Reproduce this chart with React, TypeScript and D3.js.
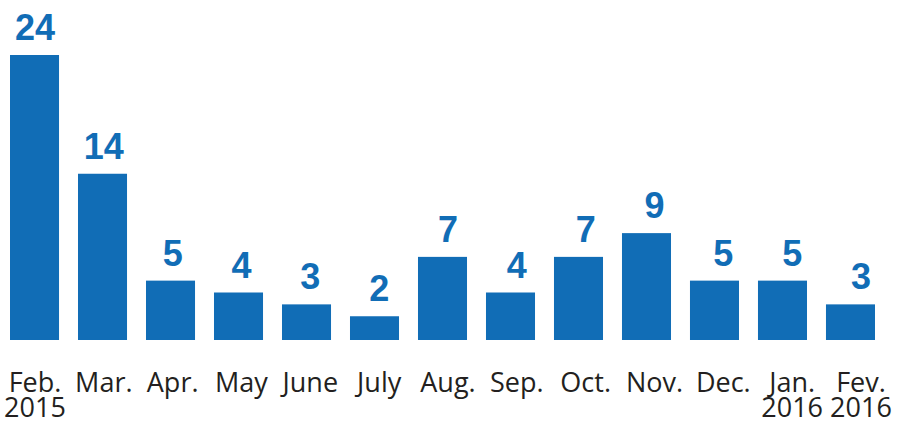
import React from "react";
import * as d3 from "d3";

const months = ["Feb.", "Mar.", "Apr.", "May", "June", "July", "Aug.", "Sep.", "Oct.", "Nov.", "Dec.", "Jan.", "Fev."];
const years = ["2015", "", "", "", "", "", "", "", "", "", "", "2016", "2016"];
const values = [24, 14, 5, 4, 3, 2, 7, 4, 7, 9, 5, 5, 3];

const W = 897;
const H = 423;
const BLUE = "#116db6";

export default function App() {
  const x = d3.scaleBand<string>().domain(months).range([10, 875]).paddingInner(0.279).paddingOuter(0);
  const lx = d3.scalePoint<string>().domain(months).range([35, 861]);
  const y = d3.scaleLinear().domain([0, 24]).range([340, 55]);

  return (
    <svg
      width={W}
      height={H}
      viewBox={`0 0 ${W} ${H}`}
      style={{ position: "absolute", left: 0, top: 0, background: "#fff" }}
    >
      {values.map((v, i) => (
        <rect
          key={"b" + i}
          x={x(months[i])!}
          y={y(v)}
          width={x.bandwidth()}
          height={y(0) - y(v)}
          fill={BLUE}
        />
      ))}
      {values.map((v, i) => (
        <text
          key={"v" + i}
          x={lx(months[i])!}
          y={y(v) - 15}
          textAnchor="middle"
          fontFamily="'Liberation Sans', Arial, sans-serif"
          fontWeight="bold"
          fontSize={36}
          fill={BLUE}
        >
          {v}
        </text>
      ))}
      {months.map((m, i) => (
        <text
          key={"m" + i}
          x={lx(m)!}
          y={392}
          textAnchor="middle"
          fontFamily="'Open Sans', sans-serif"
          fontSize={27}
          fill="#231f20"
        >
          {m}
        </text>
      ))}
      {years.map((yr, i) =>
        yr ? (
          <text
            key={"y" + i}
            x={lx(months[i])!}
            y={417}
            textAnchor="middle"
            fontFamily="'Open Sans', sans-serif"
            fontSize={27}
            fill="#231f20"
          >
            {yr}
          </text>
        ) : null
      )}
    </svg>
  );
}
